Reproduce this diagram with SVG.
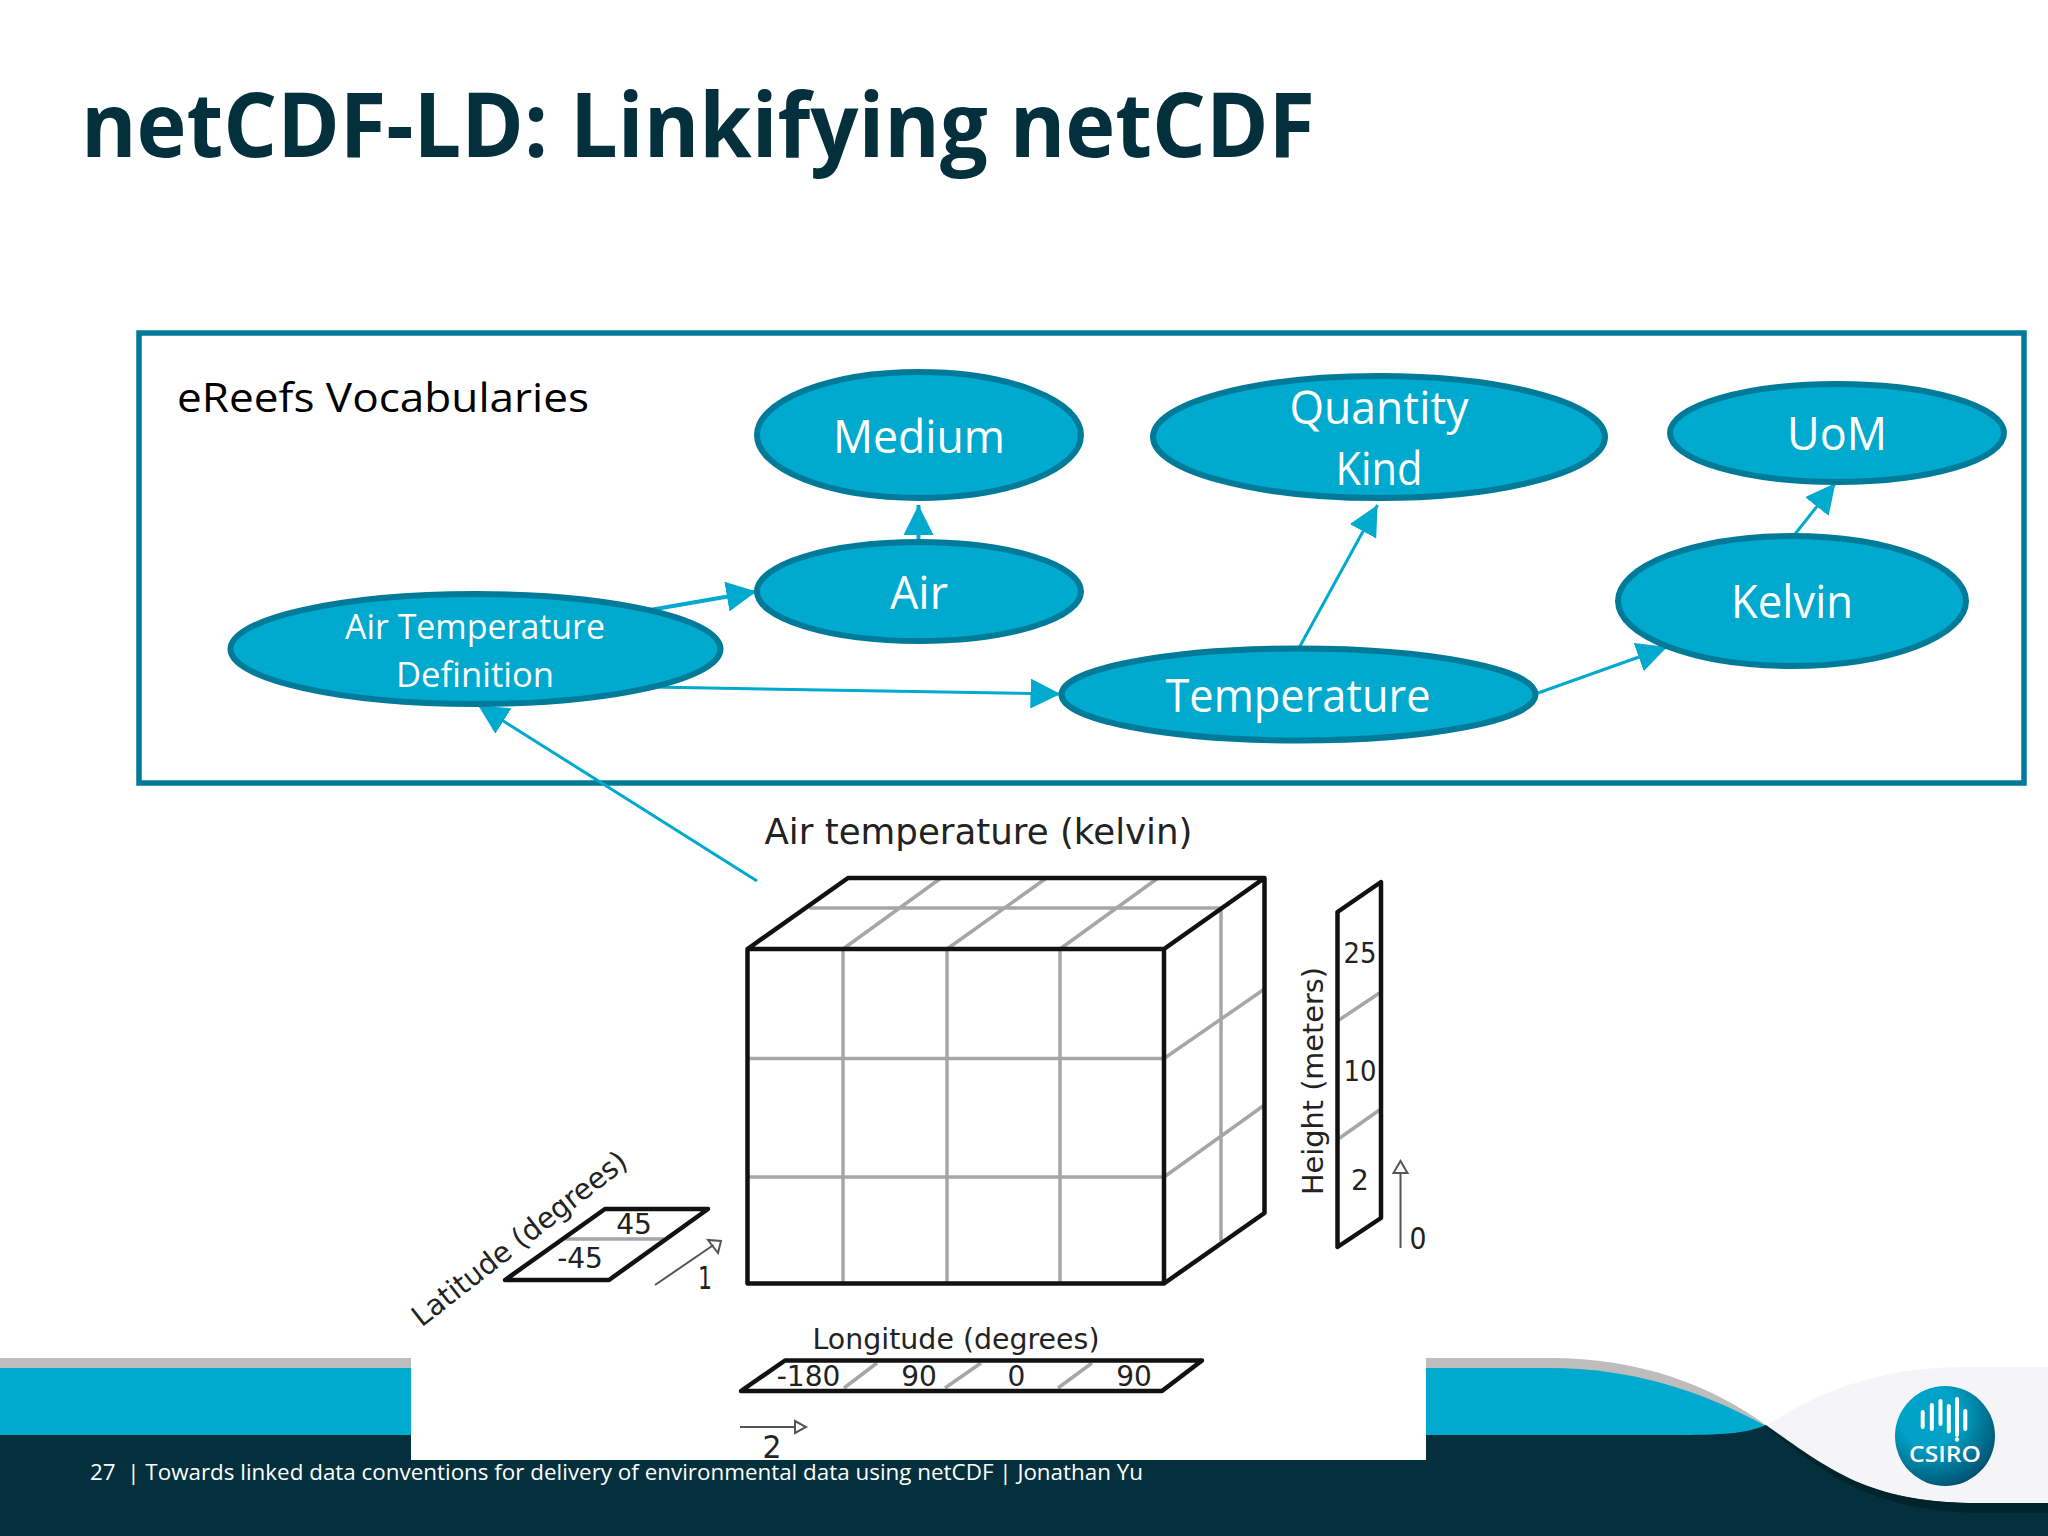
<svg xmlns="http://www.w3.org/2000/svg" width="2048" height="1536" viewBox="0 0 2048 1536">
<style>
.n{fill:#00a9ce;stroke:#007a99;stroke-width:6}
.nt{font-family:"Open Sans","Liberation Sans",sans-serif;fill:#fff;text-anchor:middle}
.c{stroke:#00a9ce;fill:none}
.g{stroke:#a6a6a6;stroke-width:3.500;fill:none}
.k{stroke:#111;stroke-width:4.500;fill:none;stroke-linejoin:round}
.d{font-family:"DejaVu Sans",sans-serif;fill:#222;text-anchor:middle}
.a{stroke:#555;stroke-width:2;fill:none}
</style>
<defs>
<marker id="h" markerUnits="userSpaceOnUse" markerWidth="30" markerHeight="30" refX="28" refY="14" orient="auto" viewBox="0 0 28 28"><path d="M0 0L28 14L0 28Z" fill="#00a9ce"/></marker>
<radialGradient id="lg" cx="0.35" cy="0.3" r="0.85"><stop offset="0.35" stop-color="#00a3c7"/><stop offset="1" stop-color="#003f5c"/></radialGradient>
</defs>
<rect width="2048" height="1536" fill="#fff"/>
<g id="footer">
<path d="M0 1358H1549C1640 1358 1710 1385 1766 1425L1766 1440H0Z" fill="#bdbdbd"/>
<path d="M0 1368H1549C1630 1368 1700 1390 1766 1426L1740 1440H0Z" fill="#00a9ce"/>
<path d="M1766 1426C1810 1397 1870 1368 1960 1367H2048V1510H1766Z" fill="#f5f5f8"/>
<path d="M0 1435H1681C1730 1435 1750 1432 1766 1425C1830 1470 1870 1503 1978 1503H2048V1536H0Z" fill="#03303c"/>
<path d="M1766 1426C1830 1471 1870 1503 1978 1503H2048V1513H1990C1880 1513 1830 1480 1766 1426Z" fill="#01232c"/>
</g>
<text id="title" x="81" y="157" font-family="'Open Sans','Liberation Sans',sans-serif" font-weight="700" font-size="90" fill="#03303c" textLength="1234" lengthAdjust="spacingAndGlyphs">netCDF-LD: Linkifying netCDF</text>
<rect id="panel" x="411" y="830" width="1015" height="630" fill="#fff"/>
<g id="vocabularies">
<rect x="139" y="333" width="1885" height="450" fill="#fff" stroke="#007a99" stroke-width="5.500"/>
<text x="177" y="412" font-family="'Open Sans','Liberation Sans',sans-serif" font-size="40" fill="#000" textLength="412" lengthAdjust="spacingAndGlyphs">eReefs Vocabularies</text>
</g>
<g id="connectors">
<path class="c" stroke-width="4" d="M918.500 541V505" marker-end="url(#h)"/>
<path class="c" stroke-width="4" d="M650 610L756.500 591.500" marker-end="url(#h)"/>
<path class="c" stroke-width="3" d="M652 687L1060.500 694" marker-end="url(#h)"/>
<path class="c" stroke-width="3" d="M757 881L478 705" marker-end="url(#h)"/>
<path class="c" stroke-width="3" d="M1299 648L1377.500 505" marker-end="url(#h)"/>
<path class="c" stroke-width="3" d="M1538 693L1667 647" marker-end="url(#h)"/>
<path class="c" stroke-width="3" d="M1793.500 536L1835.500 483" marker-end="url(#h)"/>
</g>
<g id="node-medium"><ellipse class="n" cx="919" cy="435" rx="162" ry="63"/><text class="nt" x="919" y="453" font-size="45" textLength="172" lengthAdjust="spacingAndGlyphs">Medium</text></g>
<g id="node-air"><ellipse class="n" cx="919" cy="591.500" rx="162" ry="49.500"/><text class="nt" x="919" y="609" font-size="45" textLength="58" lengthAdjust="spacingAndGlyphs">Air</text></g>
<g id="node-air-temperature-definition"><ellipse class="n" cx="475.500" cy="649" rx="245" ry="55"/><text class="nt" x="475" y="639" font-size="35" textLength="260" lengthAdjust="spacingAndGlyphs">Air Temperature</text><text class="nt" x="475" y="687" font-size="35" textLength="158" lengthAdjust="spacingAndGlyphs">Definition</text></g>
<g id="node-temperature"><ellipse class="n" cx="1298.500" cy="694.500" rx="237" ry="46"/><text class="nt" x="1298" y="712" font-size="45" textLength="265" lengthAdjust="spacingAndGlyphs">Temperature</text></g>
<g id="node-quantity-kind"><ellipse class="n" cx="1379" cy="437" rx="226" ry="61"/><text class="nt" x="1379" y="424" font-size="45" textLength="179" lengthAdjust="spacingAndGlyphs">Quantity</text><text class="nt" x="1379" y="485" font-size="45" textLength="87" lengthAdjust="spacingAndGlyphs">Kind</text></g>
<g id="node-uom"><ellipse class="n" cx="1837" cy="433" rx="167" ry="49"/><text class="nt" x="1837" y="450" font-size="45" textLength="100" lengthAdjust="spacingAndGlyphs">UoM</text></g>
<g id="node-kelvin"><ellipse class="n" cx="1792" cy="601" rx="174" ry="65"/><text class="nt" x="1792" y="618" font-size="45" textLength="122" lengthAdjust="spacingAndGlyphs">Kelvin</text></g>
<g id="cube">
<text class="d" x="978.500" y="844" font-size="35" textLength="428" lengthAdjust="spacingAndGlyphs">Air temperature (kelvin)</text>
<path class="g" d="M843 949V1283M947 949V1283M1060 949V1283M747 1058.500H1164M747 1177H1164M809 908H1221M843 949L941 878M947 949L1046.500 878M1060 949L1158 878M1221 908V1241M1164 1058.500L1264.500 989M1164 1177L1264.500 1105"/>
<path class="k" d="M747.500 949H1164V1283.500H747.500ZM747.500 949L848 878H1264.500L1164 949M1264.500 878V1213L1164 1283.500"/>
</g>
<g id="height-axis">
<path class="g" d="M1339 1020L1379.500 993M1339 1138.500L1379.500 1110"/>
<path class="k" d="M1337.500 912L1381 882V1218L1337.500 1247Z"/>
<text class="d" x="1360" y="963" font-size="28" textLength="33" lengthAdjust="spacingAndGlyphs">25</text><text class="d" x="1360" y="1081" font-size="28" textLength="33" lengthAdjust="spacingAndGlyphs">10</text><text class="d" x="1360" y="1190" font-size="28">2</text>
<text class="d" transform="translate(1323 1081) rotate(-90)" font-size="28" textLength="228" lengthAdjust="spacingAndGlyphs">Height (meters)</text>
<path class="a" d="M1400.500 1248V1173M1393.500 1173H1407.500L1400.500 1161Z"/>
<text class="d" x="1418" y="1249" font-size="31" textLength="17" lengthAdjust="spacingAndGlyphs">0</text>
</g>
<g id="latitude-axis">
<path class="g" d="M565.500 1239H664"/>
<path class="k" d="M605 1209H708L609 1280H505Z"/>
<text class="d" x="634" y="1234" font-size="28">45</text><text class="d" x="580" y="1268" font-size="28">-45</text>
<text class="d" transform="translate(525.500 1246.500) rotate(-38)" font-size="29" textLength="264" lengthAdjust="spacingAndGlyphs">Latitude (degrees)</text>
<path class="a" d="M655 1285L713.500 1245M708 1240L718 1253L721 1241Z"/>
<text class="d" x="705" y="1289" font-size="32" textLength="14" lengthAdjust="spacingAndGlyphs">1</text>
</g>
<g id="longitude-axis">
<path class="g" d="M844 1388L877 1363M945 1388L981 1363M1058 1388L1092 1363"/>
<path class="k" d="M785 1360.500H1202L1162 1391H741Z"/>
<text class="d" x="808.500" y="1386" font-size="28">-180</text><text class="d" x="919" y="1386" font-size="28">90</text><text class="d" x="1016.500" y="1386" font-size="28">0</text><text class="d" x="1134" y="1386" font-size="28">90</text>
<text class="d" x="956" y="1349" font-size="28" textLength="287" lengthAdjust="spacingAndGlyphs">Longitude (degrees)</text>
<path class="a" d="M740 1427H795M795 1421V1433L806 1427Z"/>
<text class="d" x="772" y="1458" font-size="32" textLength="19" lengthAdjust="spacingAndGlyphs">2</text>
</g>
<text id="footer-text" x="90" y="1480" font-family="'Open Sans','Liberation Sans',sans-serif" font-size="22" fill="#fff" style="white-space:pre" textLength="1053" lengthAdjust="spacingAndGlyphs">27  | Towards linked data conventions for delivery of environmental data using netCDF | Jonathan Yu</text>
<g id="logo">
<ellipse cx="1945" cy="1436" rx="50" ry="50" fill="url(#lg)"/>
<path d="M1922.700 1412V1427M1931.800 1405V1429M1940.500 1401V1424M1948.800 1406V1431.500M1957 1399V1435M1965.300 1411V1429" stroke="#fff" stroke-width="4" stroke-linecap="round"/>
<circle cx="1957" cy="1439.500" r="2.200" fill="#fff"/>
<text x="1945" y="1462" font-family="'Open Sans',Lato,sans-serif" font-weight="600" font-size="21" fill="#fff" text-anchor="middle" textLength="72" lengthAdjust="spacingAndGlyphs">CSIRO</text>
</g>
</svg>
